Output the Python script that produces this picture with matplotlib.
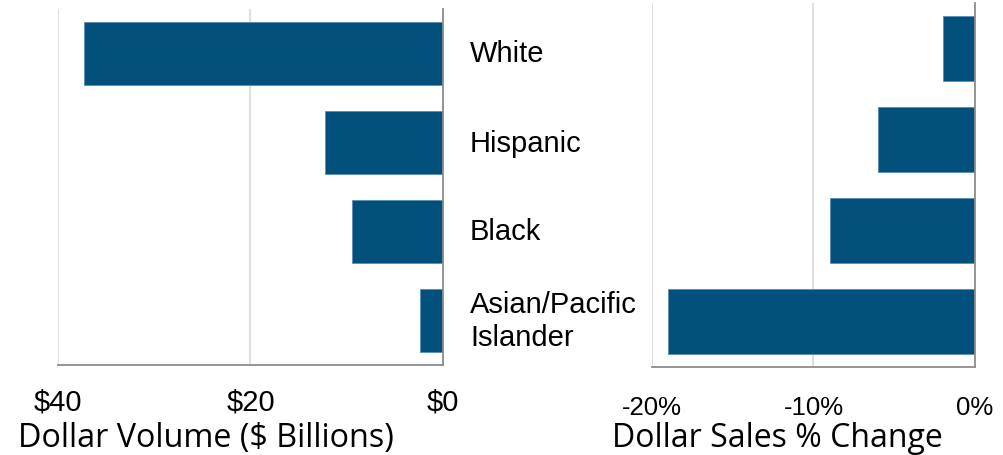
import matplotlib.pyplot as plt

# data
groups = ['White', 'Hispanic', 'Black', 'Asian/Pacific\nIslander']
dollar_volume = [37.3, 12.3, 9.5, 2.4]        # $ billions
sales_change = [-2.0, -6.0, -9.0, -19.0]      # % change

vol_ticks = [40, 20, 0]
vol_labels = ['$40', '$20', '$0']
chg_ticks = [-20, -10, 0]
chg_labels = ['-20%', '-10%', '0%']

bar_color = '#02517D'
W, H = 1004, 456

fig = plt.figure(figsize=(W / 100, H / 100), dpi=100)

# left panel: dollar volume, bars growing to the left
ax1 = fig.add_axes([58 / W, (H - 366) / H, 385 / W, 356 / H])
pos = range(len(groups))
ax1.barh(pos, [-v for v in dollar_volume], height=0.715, color=bar_color,
         edgecolor='#5b8db0', linewidth=0.6)
ax1.set_xlim(-40, 0)
ax1.set_ylim(len(groups) - 0.5, -0.5)
ax1.set_xticks([-t for t in vol_ticks])
ax1.set_xticklabels(vol_labels, family='Liberation Sans', fontsize=21)
ax1.set_yticks(list(pos))
ax1.set_yticklabels(groups, family='Liberation Sans', fontsize=21,
                    ha='left', va='center', linespacing=1.2)
ax1.yaxis.tick_right()
ax1.tick_params(axis='y', length=0, pad=19.5)
ax1.tick_params(axis='x', length=0, pad=16)
ax1.grid(axis='x', color='#d9d9d9', linewidth=1.2)
ax1.set_axisbelow(True)
for s in ['top', 'left']:
    ax1.spines[s].set_visible(False)
ax1.spines['right'].set_color('#8c8c8c')
ax1.spines['bottom'].set_color('#8c8c8c')
ax1.spines['right'].set_linewidth(1.3)
ax1.spines['bottom'].set_linewidth(1.3)

# right panel: % change
ax2 = fig.add_axes([652 / W, (H - 368) / H, 323 / W, 364 / H])
ax2.barh(pos, sales_change, height=0.715, color=bar_color,
         edgecolor='#5b8db0', linewidth=0.6)
ax2.set_xlim(-20, 0)
ax2.set_ylim(len(groups) - 0.5, -0.5)
ax2.set_xticks(chg_ticks)
ax2.set_xticklabels(chg_labels, family='Liberation Sans', fontsize=18.5)
ax2.set_yticks([])
ax2.tick_params(axis='x', length=0, pad=20)
ax2.grid(axis='x', color='#d9d9d9', linewidth=1.2)
ax2.set_axisbelow(True)
for s in ['top', 'left']:
    ax2.spines[s].set_visible(False)
ax2.spines['right'].set_color('#8c8c8c')
ax2.spines['bottom'].set_color('#8c8c8c')
ax2.spines['right'].set_linewidth(1.3)
ax2.spines['bottom'].set_linewidth(1.3)

fig.text(18 / W, (H - 447) / H, 'Dollar Volume ($ Billions)', family='Open Sans',
         fontsize=23.3, ha='left', va='baseline')
fig.text(612 / W, (H - 447) / H, 'Dollar Sales % Change', family='Open Sans',
         fontsize=23, ha='left', va='baseline')

fig.savefig('out.png', dpi=100)
